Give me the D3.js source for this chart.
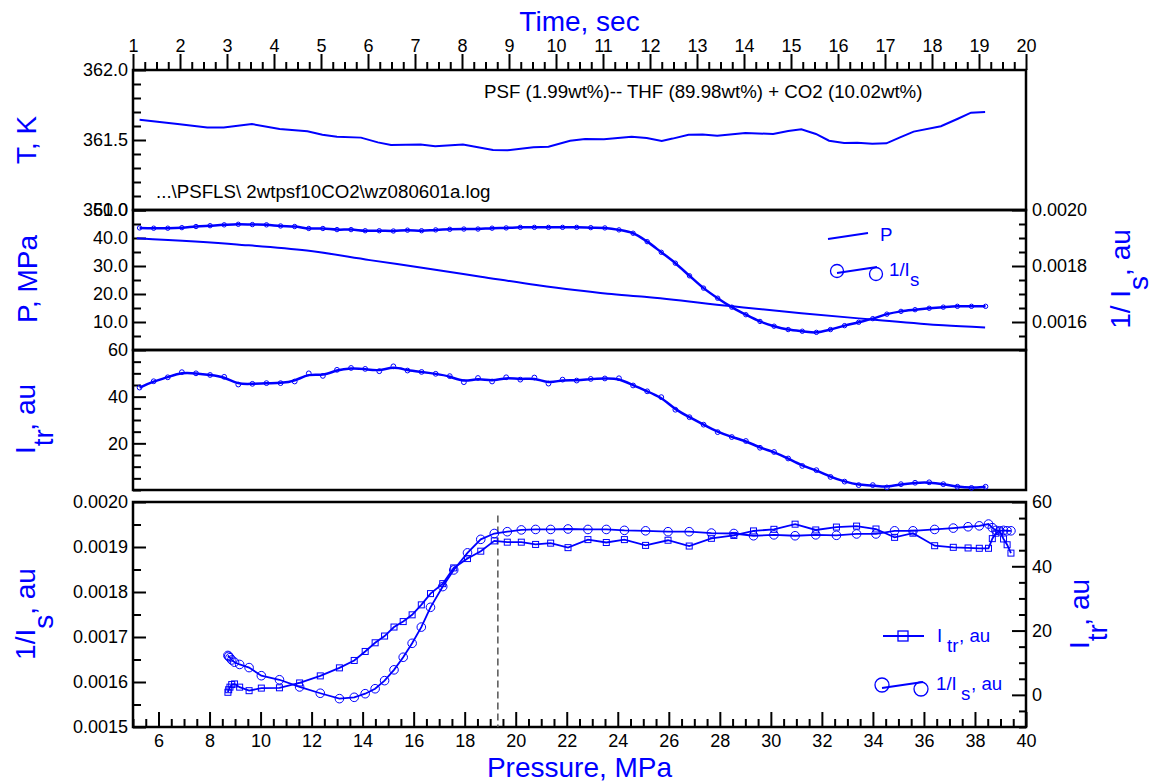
<!DOCTYPE html>
<html>
<head>
<meta charset="utf-8">
<script src="https://cdn.jsdelivr.net/npm/d3@7"></script>
<style>
  body { margin: 0; background: #fff; }
  text { font-family: "Liberation Sans", Arial, sans-serif; }
</style>
</head>
<body>
<svg id="chart" width="1155" height="784"></svg>
<script>
// ---- Temperature record (top panel), time in s ----
const tempTime = [1.14, 1.95, 2.58, 2.93, 3.53, 4.12, 4.71, 5.03, 5.34, 5.85, 6.21, 6.49, 7.12, 7.43, 8.02,
  8.66, 8.97, 9.52, 9.84, 10.30, 10.62, 11.02, 11.61, 11.93, 12.25, 12.48, 12.82, 13.12, 13.43, 14.03,
  14.62, 14.94, 15.22, 15.53, 15.81, 16.13, 16.41, 16.73, 17.03, 17.32, 17.61, 18.19, 18.55, 18.83, 19.13];
const tempK = [361.645, 361.614, 361.590, 361.590, 361.614, 361.579, 361.562, 361.538, 361.524, 361.517,
  361.483, 361.464, 361.467, 361.455, 361.467, 361.429, 361.426, 361.448, 361.452, 361.495,
  361.507, 361.505, 361.524, 361.514, 361.493, 361.510, 361.538, 361.540, 361.531, 361.550,
  361.543, 361.564, 361.576, 361.543, 361.495, 361.479, 361.481, 361.474, 361.476, 361.519,
  361.560, 361.598, 361.652, 361.695, 361.700];

// ---- Pressure record (second panel) ----
const presTime = [1.08, 3.21, 4.70, 6.04, 7.22, 8.40, 9.58, 10.40, 11.10, 11.88, 13.71, 15.22, 16.65, 18.24, 19.13];
const presMPa = [39.9, 37.7, 35.5, 32.1, 29.2, 26.2, 23.2, 21.4, 20.1, 19.0, 15.7, 13.1, 11.0, 8.8, 8.0];

// ---- Sampled optical signals vs time ----
const sampleTime = [1.14, 1.44, 1.74, 2.04, 2.34, 2.64, 2.94, 3.24, 3.54, 3.84, 4.14, 4.44, 4.74, 5.04, 5.34,
  5.64, 5.94, 6.24, 6.54, 6.84, 7.14, 7.44, 7.74, 8.04, 8.34, 8.64, 8.94, 9.24, 9.54, 9.84,
  10.14, 10.44, 10.74, 11.04, 11.34, 11.64, 11.94, 12.24, 12.54, 12.84, 13.14, 13.44, 13.74, 14.04, 14.34,
  14.64, 14.94, 15.24, 15.54, 15.84, 16.14, 16.44, 16.74, 17.04, 17.34, 17.64, 17.94, 18.24, 18.54, 18.84, 19.14];
const invIsByTime = [0.001936, 0.001935, 0.001935, 0.001937, 0.001941, 0.001944, 0.001947, 0.001949, 0.001948, 0.001947,
  0.001943, 0.001941, 0.001934, 0.001934, 0.001930, 0.001930, 0.001926, 0.001926, 0.001925, 0.001928,
  0.001926, 0.001929, 0.001931, 0.001932, 0.001932, 0.001935, 0.001936, 0.001938, 0.001938, 0.001938,
  0.001938, 0.001938, 0.001937, 0.001936, 0.001929, 0.001917, 0.001887, 0.001849, 0.001810, 0.001765,
  0.001721, 0.001685, 0.001653, 0.001626, 0.001602, 0.001585, 0.001573, 0.001567, 0.001563, 0.001573,
  0.001587, 0.001599, 0.001612, 0.001628, 0.001638, 0.001644, 0.001649, 0.001653, 0.001656, 0.001656, 0.001656];
const itrByTime = [43.9, 46.6, 48.3, 50.5, 50.0, 49.3, 48.5, 45.2, 45.5, 45.8,
  45.8, 46.5, 50.0, 48.9, 51.5, 52.3, 51.9, 50.9, 53.0, 51.2,
  50.6, 49.8, 48.8, 46.2, 48.0, 46.5, 48.3, 47.3, 48.2, 45.6,
  47.3, 46.9, 47.6, 47.8, 47.9, 44.8, 42.3, 39.8, 34.4, 31.2,
  28.0, 24.8, 22.7, 21.0, 18.1, 16.3, 13.5, 10.3, 8.5, 5.6,
  3.6, 2.1, 2.1, 1.1, 2.5, 3.1, 3.3, 2.5, 1.4, 0.9, 1.4];

// ---- Same signals vs pressure (bottom panel) ----
const pressure = [39.41, 39.26, 39.12, 38.97, 38.82, 38.68, 38.53, 38.17, 37.73, 37.15,
  36.42, 35.57, 34.85, 34.12, 33.36, 32.57, 31.76, 30.95, 30.12, 29.32,
  28.55, 27.67, 26.80, 25.97, 25.09, 24.26, 23.55, 22.83, 22.05, 21.37,
  20.78, 20.22, 19.67, 19.16, 18.63, 18.11, 17.57, 17.14, 16.66, 16.30,
  15.94, 15.59, 15.23, 14.86, 14.49, 14.10, 13.67, 13.09, 12.34, 11.53,
  10.74, 10.03, 9.55, 9.18, 8.98, 8.87, 8.80, 8.75, 8.72];
const invIsByP = [0.001936, 0.001936, 0.001937, 0.001936, 0.001937, 0.001943, 0.001951, 0.001947, 0.001945, 0.001942,
  0.001939, 0.001936, 0.001936, 0.001929, 0.001929, 0.001926, 0.001927, 0.001925, 0.001927, 0.001925,
  0.001930, 0.001931, 0.001934, 0.001934, 0.001936, 0.001937, 0.001939, 0.001939, 0.001940, 0.001939,
  0.001939, 0.001938, 0.001934, 0.001930, 0.001917, 0.001887, 0.001849, 0.001812, 0.001766, 0.001722,
  0.001686, 0.001655, 0.001627, 0.001603, 0.001585, 0.001574, 0.001566, 0.001563, 0.001575, 0.001589,
  0.001605, 0.001614, 0.001632, 0.001639, 0.001644, 0.001649, 0.001654, 0.001657, 0.001659];
const itrByP = [44.1, 46.7, 48.5, 51.0, 50.3, 48.6, 45.6, 45.6, 45.7, 45.9,
  46.4, 50.3, 49.0, 51.6, 52.5, 52.2, 51.3, 53.1, 51.5, 51.0,
  49.6, 48.7, 46.3, 48.1, 46.5, 48.3, 47.4, 48.3, 45.8, 47.2,
  46.8, 47.5, 47.5, 47.9, 44.7, 42.4, 39.5, 34.6, 31.5, 28.0,
  24.9, 22.8, 21.1, 18.3, 16.2, 13.5, 10.7, 8.4, 5.9, 3.7,
  2.2, 2.1, 1.3, 2.4, 3.4, 3.2, 2.4, 1.6, 0.8];
const onsetPressure = 19.3;
const onsetRange = [0.0015, 0.00197];

// ---- Tick labels ----
const timeTicks = [1,2,3,4,5,6,7,8,9,10,11,12,13,14,15,16,17,18,19,20];
const tempTicks = [362.0, 361.5, 361.0];
const presTicks = [50, 40, 30, 20, 10];
const invIsTicksTop = [0.0020, 0.0018, 0.0016];
const itrTicksMid = [60, 40, 20];
const pressureTicks = [6,8,10,12,14,16,18,20,22,24,26,28,30,32,34,36,38,40];
const invIsTicksBottom = [0.0020, 0.0019, 0.0018, 0.0017, 0.0016, 0.0015];
const itrTicksBottom = [60, 40, 20, 0];

const BLUE = "#0000ff";
const FONT = '"Liberation Sans", Arial, sans-serif';
const svg = d3.select("#chart");
const L = 133, R = 1026;
const P1 = {top: 70, bottom: 210}, P2 = {top: 210, bottom: 350}, P3 = {top: 350, bottom: 490}, P4 = {top: 502, bottom: 727};

const xTime = d3.scaleLinear().domain([1, 20]).range([L, R]);
const yTemp = d3.scaleLinear().domain([361, 362]).range([P1.bottom, P1.top]);
const yPres = d3.scaleLinear().domain([0, 50]).range([P2.bottom, P2.top]);
const yInv2 = d3.scaleLinear().domain([0.0015, 0.0020]).range([P2.bottom, P2.top]);
const yItr3 = d3.scaleLinear().domain([0, 60]).range([P3.bottom, P3.top]);
const xPres = d3.scaleLinear().domain([5, 40]).range([L, R]);
const yInv4 = d3.scaleLinear().domain([0.0015, 0.0020]).range([P4.bottom, P4.top]);
const yItr4 = d3.scaleLinear().domain([-10, 60]).range([P4.bottom, P4.top]);

const near = (a, b) => Math.abs(a - b) < 1e-9;
function minorOf(lo, hi, step, majors) {
  return d3.range(0, Math.round((hi - lo) / step) + 1).map(i => lo + i * step)
    .filter(v => !majors.some(m => near(m, v)));
}

function styleAxis(g) {
  g.select(".domain").remove();
  g.attr("font-family", FONT).attr("font-size", 18);
  g.selectAll(".tick line").attr("stroke", "#000").attr("stroke-width", 2);
  g.selectAll(".tick text").attr("fill", "#000");
}

// generic axis: major labelled ticks + minor unlabelled ticks
function axis(kind, scale, transform, majors, minors, fmt, majLen, minLen, pad) {
  const make = {left: d3.axisLeft, right: d3.axisRight, top: d3.axisTop, bottom: d3.axisBottom}[kind];
  const g1 = svg.append("g").attr("transform", transform)
    .call(make(scale).tickValues(majors).tickFormat(fmt).tickSize(majLen).tickPadding(pad));
  styleAxis(g1);
  const g2 = svg.append("g").attr("transform", transform)
    .call(make(scale).tickValues(minors).tickFormat(() => "").tickSize(minLen));
  styleAxis(g2);
}

// Top time axis (ticks outward)
axis("top", xTime, `translate(0,${P1.top})`, timeTicks, minorOf(1, 20, 0.25, timeTicks), d3.format("d"), 16, 8, 2);

// Panel 1 left: temperature
axis("left", yTemp, `translate(${L},0)`, tempTicks, minorOf(361, 362, 0.1, tempTicks), d3.format(".1f"), -13, -8, 5);
// Panel 2 left: pressure
axis("left", yPres, `translate(${L},0)`, presTicks, minorOf(0, 50, 5, presTicks.concat([0])), d3.format(".1f"), -13, -8, 5);
// Panel 2 right: 1/Is
axis("right", yInv2, `translate(${R},0)`, invIsTicksTop, minorOf(0.0015, 0.0020, 0.00005, invIsTicksTop), d3.format(".4f"), -14, -7, 6);
// Panel 3 left: transmitted intensity
axis("left", yItr3, `translate(${L},0)`, itrTicksMid, minorOf(0, 60, 5, itrTicksMid), d3.format("d"), -13, -8, 5);
// Panel 4 left / right / bottom
axis("left", yInv4, `translate(${L},0)`, invIsTicksBottom, minorOf(0.0015, 0.0020, 0.00005, invIsTicksBottom), d3.format(".4f"), -13, -8, 5);
axis("right", yItr4, `translate(${R},0)`, itrTicksBottom, minorOf(-10, 60, 5, itrTicksBottom), d3.format("d"), -14, -7, 6);
axis("bottom", xPres, `translate(0,${P4.bottom})`, pressureTicks, minorOf(5, 40, 0.5, pressureTicks), d3.format("d"), -15, -8, 7);

// Panel frames
[P1, P2, P3, P4].forEach(p => {
  svg.append("rect").attr("x", L).attr("y", p.top).attr("width", R - L).attr("height", p.bottom - p.top)
    .attr("fill", "none").attr("stroke", "#000").attr("stroke-width", 2.5);
});

// ---- Panel 1: temperature line ----
const tempPts = tempTime.map((t, i) => [t, tempK[i]]);
svg.append("path").datum(tempPts)
  .attr("d", d3.line().x(d => xTime(d[0])).y(d => yTemp(d[1])))
  .attr("fill", "none").attr("stroke", BLUE).attr("stroke-width", 2);

svg.append("text").attr("x", 484).attr("y", 98).attr("font-size", 18.7).attr("fill", "#000")
  .text("PSF (1.99wt%)-- THF (89.98wt%) + CO2 (10.02wt%)");
svg.append("text").attr("x", 156).attr("y", 198).attr("font-size", 18.7).attr("fill", "#000")
  .text("...\\PSFLS\\ 2wtpsf10CO2\\wz080601a.log");

// ---- Panel 2: pressure and 1/Is vs time ----
const presPts = presTime.map((t, i) => [t, presMPa[i]]);
svg.append("path").datum(presPts)
  .attr("d", d3.line().x(d => xTime(d[0])).y(d => yPres(d[1])).curve(d3.curveMonotoneX))
  .attr("fill", "none").attr("stroke", BLUE).attr("stroke-width", 2);

const inv2Pts = sampleTime.map((t, i) => [t, invIsByTime[i]]);
svg.append("path").datum(inv2Pts)
  .attr("d", d3.line().x(d => xTime(d[0])).y(d => yInv2(d[1])).curve(d3.curveCatmullRom))
  .attr("fill", "none").attr("stroke", BLUE).attr("stroke-width", 2.5);
svg.append("g").selectAll("circle").data(inv2Pts).join("circle")
  .attr("cx", d => xTime(d[0])).attr("cy", d => yInv2(d[1])).attr("r", 2.2)
  .attr("fill", "none").attr("stroke", BLUE).attr("stroke-width", 1);

// legend (panel 2)
svg.append("line").attr("x1", 828).attr("y1", 239).attr("x2", 868).attr("y2", 233)
  .attr("stroke", BLUE).attr("stroke-width", 2);
svg.append("text").attr("x", 880).attr("y", 241).attr("font-size", 18.7).attr("fill", BLUE).text("P");
svg.append("circle").attr("cx", 837).attr("cy", 271).attr("r", 6.5).attr("fill", "none").attr("stroke", BLUE).attr("stroke-width", 1.3);
svg.append("circle").attr("cx", 876).attr("cy", 274).attr("r", 6.5).attr("fill", "none").attr("stroke", BLUE).attr("stroke-width", 1.3);
svg.append("line").attr("x1", 837).attr("y1", 273).attr("x2", 877).attr("y2", 267)
  .attr("stroke", BLUE).attr("stroke-width", 2);
svg.append("text").attr("x", 889).attr("y", 276).attr("font-size", 18.7).attr("fill", BLUE).text("1/I");
svg.append("text").attr("x", 910).attr("y", 286).attr("font-size", 18.7).attr("fill", BLUE).text("s");

// ---- Panel 3: transmitted intensity vs time ----
const itr3Pts = sampleTime.map((t, i) => [t, itrByTime[i]]);
svg.append("path").datum(itr3Pts)
  .attr("d", d3.line().x(d => xTime(d[0])).y(d => yItr3(d[1])).curve(d3.curveBasis))
  .attr("fill", "none").attr("stroke", BLUE).attr("stroke-width", 2.5);
svg.append("g").selectAll("circle").data(itr3Pts).join("circle")
  .attr("cx", d => xTime(d[0])).attr("cy", d => yItr3(d[1])).attr("r", 2.4)
  .attr("fill", "none").attr("stroke", BLUE).attr("stroke-width", 1);

// ---- Panel 4: signals vs pressure ----
svg.append("line")
  .attr("x1", xPres(onsetPressure)).attr("x2", xPres(onsetPressure))
  .attr("y1", yInv4(onsetRange[1])).attr("y2", yInv4(onsetRange[0]))
  .attr("stroke", "#555").attr("stroke-width", 1.5).attr("stroke-dasharray", "7,4");

const itr4Pts = pressure.map((p, i) => [p, itrByP[i]]);
const inv4Pts = pressure.map((p, i) => [p, invIsByP[i]]);
svg.append("path").datum(itr4Pts)
  .attr("d", d3.line().x(d => xPres(d[0])).y(d => yItr4(d[1])))
  .attr("fill", "none").attr("stroke", BLUE).attr("stroke-width", 1.8);
svg.append("path").datum(inv4Pts)
  .attr("d", d3.line().x(d => xPres(d[0])).y(d => yInv4(d[1])))
  .attr("fill", "none").attr("stroke", BLUE).attr("stroke-width", 1.8);
svg.append("g").selectAll("rect").data(itr4Pts).join("rect")
  .attr("x", d => xPres(d[0]) - 3).attr("y", d => yItr4(d[1]) - 3).attr("width", 6).attr("height", 6)
  .attr("fill", "none").attr("stroke", BLUE).attr("stroke-width", 1);
svg.append("g").selectAll("circle").data(inv4Pts).join("circle")
  .attr("cx", d => xPres(d[0])).attr("cy", d => yInv4(d[1])).attr("r", 4.3)
  .attr("fill", "none").attr("stroke", BLUE).attr("stroke-width", 1);

// legend (panel 4)
svg.append("line").attr("x1", 883).attr("y1", 636).attr("x2", 924).attr("y2", 636).attr("stroke", BLUE).attr("stroke-width", 2);
svg.append("rect").attr("x", 898).attr("y", 631).attr("width", 10).attr("height", 10)
  .attr("fill", "none").attr("stroke", BLUE).attr("stroke-width", 1.3);
svg.append("text").attr("x", 937).attr("y", 642).attr("font-size", 18.7).attr("fill", BLUE).text("I");
svg.append("text").attr("x", 947).attr("y", 652).attr("font-size", 18.7).attr("fill", BLUE).text("tr");
svg.append("text").attr("x", 959).attr("y", 642).attr("font-size", 18.7).attr("fill", BLUE).text(", au");

svg.append("circle").attr("cx", 882).attr("cy", 685).attr("r", 7).attr("fill", "none").attr("stroke", BLUE).attr("stroke-width", 1.3);
svg.append("circle").attr("cx", 921).attr("cy", 689).attr("r", 7).attr("fill", "none").attr("stroke", BLUE).attr("stroke-width", 1.3);
svg.append("line").attr("x1", 882).attr("y1", 688).attr("x2", 923).attr("y2", 682).attr("stroke", BLUE).attr("stroke-width", 2);
svg.append("text").attr("x", 936).attr("y", 690).attr("font-size", 18.7).attr("fill", BLUE).text("1/I");
svg.append("text").attr("x", 961).attr("y", 700).attr("font-size", 18.7).attr("fill", BLUE).text("s");
svg.append("text").attr("x", 971).attr("y", 690).attr("font-size", 18.7).attr("fill", BLUE).text(", au");

// ---- Axis titles ----
svg.append("text").attr("x", (L + R) / 2).attr("y", 31).attr("text-anchor", "middle")
  .attr("font-size", 28).attr("fill", BLUE).text("Time, sec");
svg.append("text").attr("x", (L + R) / 2).attr("y", 777).attr("text-anchor", "middle")
  .attr("font-size", 28).attr("fill", BLUE).text("Pressure, MPa");

function vTitle(x, y, parts) {
  const t = svg.append("text").attr("transform", `translate(${x},${y}) rotate(-90)`)
    .attr("text-anchor", "middle").attr("font-size", 28).attr("fill", BLUE);
  parts.forEach(p => t.append("tspan").attr("dy", p[1]).text(p[0]));
}
vTitle(36, 140, [["T, K", 0]]);
vTitle(37, 279, [["P, MPa", 0]]);
vTitle(35, 419, [["I", 0], ["tr", 18], [", au", -18]]);
vTitle(35, 614, [["1/I", 0], ["s", 18], [", au", -18]]);
vTitle(1130, 279, [["1/ I", 0], ["s", 18], [", au", -18]]);
vTitle(1089, 614, [["I", 0], ["tr", 18], [", au", -18]]);
</script>
</body>
</html>
